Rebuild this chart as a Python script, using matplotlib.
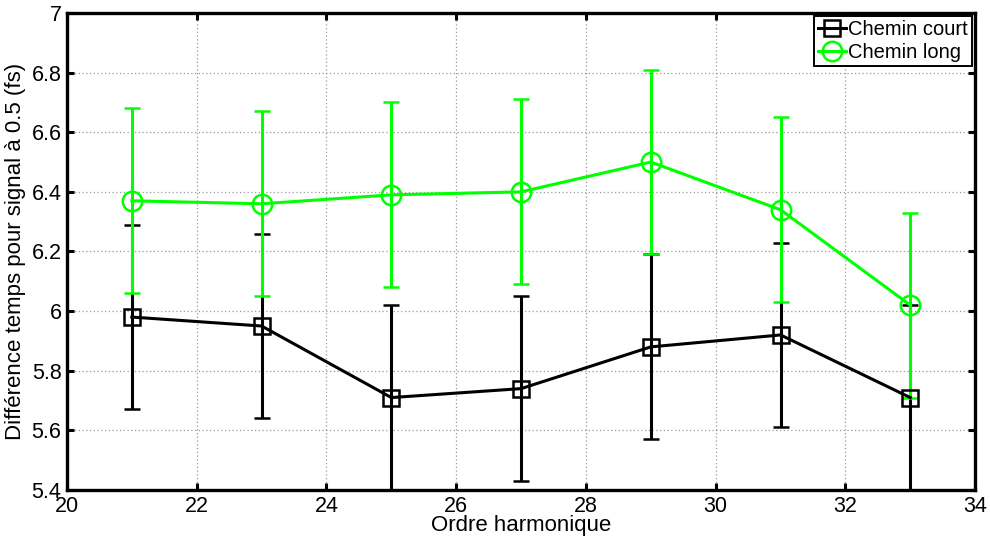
import numpy as np
import matplotlib
matplotlib.use("Agg")
import matplotlib.pyplot as plt
from matplotlib.lines import Line2D

plt.rcParams['font.family'] = ['Liberation Sans', 'DejaVu Sans']

# harmonic orders
ordre = [21, 23, 25, 27, 29, 31, 33]
# short path (black)
court = [5.98, 5.95, 5.71, 5.74, 5.88, 5.92, 5.71]
court_err = [0.31, 0.31, 0.31, 0.31, 0.31, 0.31, 0.31]
# long path (green)
long_ = [6.37, 6.36, 6.39, 6.40, 6.50, 6.34, 6.02]
long_err = [0.31, 0.31, 0.31, 0.31, 0.31, 0.31, 0.31]

fig = plt.figure(figsize=(9.9, 5.41), dpi=100)
ax = fig.add_axes([0.0677, 0.0943, 0.9173, 0.8817])

lw = 2.2
ax.errorbar(ordre, court, yerr=court_err, color='black', marker='s',
            markersize=11, markerfacecolor='none', markeredgewidth=1.8,
            linewidth=lw, elinewidth=lw, capsize=5.5, capthick=2.6)
ax.errorbar(ordre, long_, yerr=long_err, color='#00ff00', marker='o',
            markersize=14, markerfacecolor='none', markeredgewidth=1.8,
            linewidth=lw, elinewidth=lw, capsize=5.5, capthick=2.6)

ax.set_xlim(20, 34)
ax.set_ylim(5.4, 7)
ax.set_xticks(np.arange(20, 35, 2))
ax.set_yticks([5.4, 5.6, 5.8, 6, 6.2, 6.4, 6.6, 6.8, 7])
ax.set_yticklabels(['5.4', '5.6', '5.8', '6', '6.2', '6.4', '6.6', '6.8', '7'])
ax.grid(True, linestyle=(0, (1, 2)), color='#999999', linewidth=0.9)

for s in ax.spines.values():
    s.set_linewidth(2.4)
ax.tick_params(direction='in', length=5, width=2.2, top=True, right=True,
               labelsize=15.5, pad=4)

ax.set_xlabel('Ordre harmonique', fontsize=16, labelpad=-1)
ax.set_ylabel('Différence temps pour signal à 0.5 (fs)', fontsize=16, labelpad=4)

handles = [
    Line2D([], [], color='black', marker='s', markersize=11,
           markerfacecolor='none', markeredgewidth=1.8, linewidth=lw),
    Line2D([], [], color='#00ff00', marker='o', markersize=14,
           markerfacecolor='none', markeredgewidth=1.8, linewidth=lw),
]
leg = ax.legend(handles, ['Chemin court', 'Chemin long'], loc='upper right',
                fontsize=14.5, fancybox=False, edgecolor='black', framealpha=1,
                handlelength=1.4, handletextpad=0.1, borderpad=0.2,
                labelspacing=0.2, borderaxespad=0.15, numpoints=1)
leg.get_frame().set_linewidth(1.4)

fig.savefig('out.png', dpi=100)
